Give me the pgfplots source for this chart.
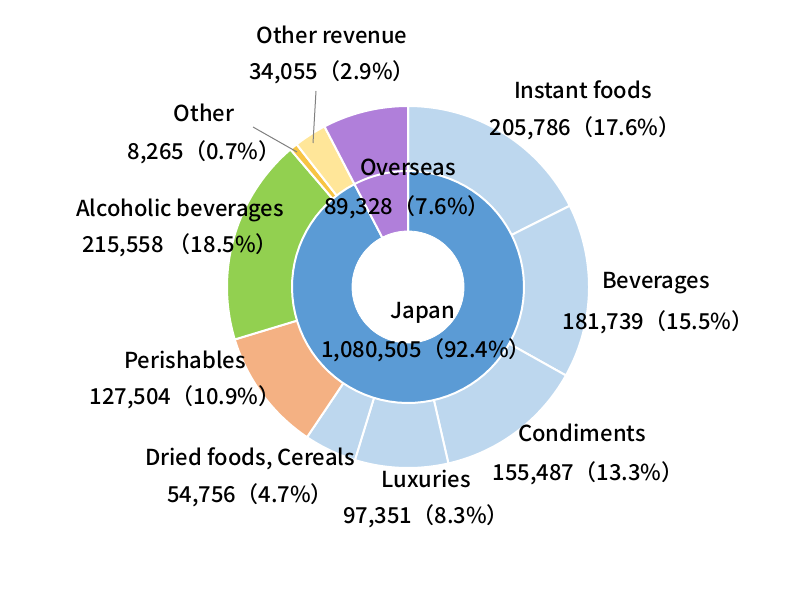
\documentclass[border=0pt]{standalone}
\usepackage{fontspec}
\setmainfont{Noto Sans CJK JP Medium}
\usepackage{pgfplots}
\pgfplotsset{compat=1.18}

\definecolor{lblue}{HTML}{BDD7EE}
\definecolor{jblue}{HTML}{5B9BD5}
\definecolor{purp}{HTML}{B07FDA}
\definecolor{grn}{HTML}{92D050}
\definecolor{orng}{HTML}{F4B183}
\definecolor{gold}{HTML}{F7C443}
\definecolor{lyel}{HTML}{FFE699}

% data (million yen)
\def\vInstant{205786}
\def\vBev{181739}
\def\vCond{155487}
\def\vLux{97351}
\def\vDried{54756}
\def\vPer{127504}
\def\vAlc{215558}
\def\vOther{8265}
\def\vOrev{34055}
\def\vOver{89328}
\def\vJapan{1080505}

\edef\T{\fpeval{\vInstant+\vBev+\vCond+\vLux+\vDried+\vPer+\vAlc+\vOther+\vOrev+\vOver}}
\edef\aA{90}
\edef\aB{\fpeval{\aA-360*\vInstant/\T}}
\edef\aC{\fpeval{\aB-360*\vBev/\T}}
\edef\aD{\fpeval{\aC-360*\vCond/\T}}
\edef\aE{\fpeval{\aD-360*\vLux/\T}}
\edef\aF{\fpeval{\aE-360*\vDried/\T}}
\edef\aG{\fpeval{\aF-360*\vPer/\T}}
\edef\aH{\fpeval{\aG-360*\vAlc/\T}}
\edef\aI{\fpeval{\aH-360*\vOther/\T}}
\edef\aJ{\fpeval{\aI-360*\vOrev/\T}}
\edef\aK{-270}
\edef\aJp{\fpeval{90-360*\vJapan/(\vJapan+\vOver)}}

\newcommand{\pieslice}[4]{% color, from, to, radius
  \addplot[fill=#1, draw=white, line width=1pt, domain=#3:#2, samples=80, variable=\t]
    ({408+#4*cos(\t)},{313+#4*sin(\t)}) -- (axis cs:408,313) -- cycle;
}

\begin{document}
\begin{tikzpicture}
\begin{axis}[
  hide axis, scale only axis,
  width=403pt, height=300pt,
  xmin=0, xmax=806, ymin=0, ymax=600,
  clip=false,
]
\path (axis cs:0,0) rectangle (axis cs:806,600);
% outer ring
\pieslice{lblue}{\aA}{\aB}{181}
\pieslice{lblue}{\aB}{\aC}{181}
\pieslice{lblue}{\aC}{\aD}{181}
\pieslice{lblue}{\aD}{\aE}{181}
\pieslice{lblue}{\aE}{\aF}{181}
\pieslice{orng}{\aF}{\aG}{181}
\pieslice{grn}{\aG}{\aH}{181}
\pieslice{gold}{\aH}{\aI}{181}
\pieslice{lyel}{\aI}{\aJ}{181}
\pieslice{purp}{\aJ}{\aK}{181}
% inner ring
\pieslice{jblue}{90}{\aJp}{116}
\pieslice{purp}{\aJp}{-270}{116}
% hole
\addplot[fill=white, draw=white, domain=0:360, samples=100, variable=\t]
  ({408+56*cos(\t)},{313+56*sin(\t)}) -- cycle;

% leader lines
\addplot[gray, line width=0.5pt] coordinates {(316,509) (313,457)};
\addplot[gray, line width=0.5pt] coordinates {(253,473) (297,448)};

\begin{scope}[every node/.style={font=\fontsize{11}{13}\selectfont, text=black, inner sep=0pt}]
\node at (axis cs:332,565) {Other revenue};
\node at (axis cs:332,528) {34,055（2.9\%）};
\node at (axis cs:204,487) {Other};
\node at (axis cs:204,448) {8,265（0.7\%）};
\node at (axis cs:180,390) {Alcoholic beverages};
\node at (axis cs:180,355) {215,558 （18.5\%）};
\node at (axis cs:408,433) {Overseas};
\node at (axis cs:407,393) {89,328（7.6\%）};
\node at (axis cs:583,510) {Instant foods};
\node at (axis cs:585,472) {205,786（17.6\%）};
\node at (axis cs:656,317) {Beverages};
\node at (axis cs:658,278) {181,739（15.5\%）};
\node at (axis cs:423,287) {Japan};
\node at (axis cs:426,250) {1,080,505（92.4\%）};
\node at (axis cs:185,240) {Perishables};
\node at (axis cs:185,203) {127,504（10.9\%）};
\node at (axis cs:582,167) {Condiments};
\node at (axis cs:588,127) {155,487（13.3\%）};
\node at (axis cs:250,141) {Dried foods, Cereals};
\node at (axis cs:250,105) {54,756（4.7\%）};
\node at (axis cs:426,121) {Luxuries};
\node at (axis cs:426,84) {97,351（8.3\%）};
\end{scope}
\end{axis}
\end{tikzpicture}
\end{document}
